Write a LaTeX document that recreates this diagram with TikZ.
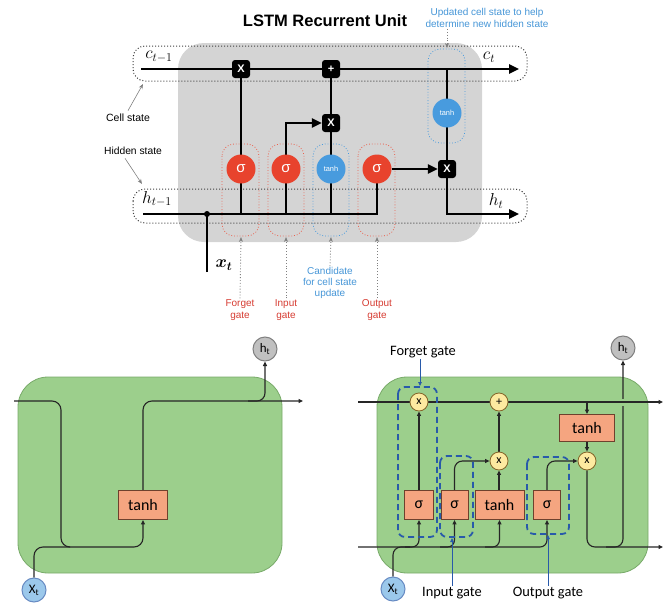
\documentclass[tikz,border=0pt]{standalone}
\usepackage{fontspec}
\usepackage{bm}
\setmainfont{Liberation Sans}
\newfontfamily\calfont{Carlito}
\usetikzlibrary{arrows.meta,backgrounds}

\definecolor{panelgray}{RGB}{212,212,212}
\definecolor{gatered}{RGB}{232,67,45}
\definecolor{candblue}{RGB}{72,155,222}
\definecolor{notered}{RGB}{214,60,50}
\definecolor{noteblue}{RGB}{70,150,215}
\definecolor{cellgreen}{RGB}{156,207,140}
\definecolor{cellgreenedge}{RGB}{120,170,105}
\definecolor{layerorange}{RGB}{245,165,128}
\definecolor{layeredge}{RGB}{110,65,45}
\definecolor{opyellow}{RGB}{253,234,160}
\definecolor{opedge}{RGB}{130,100,40}
\definecolor{gatedash}{RGB}{40,90,170}
\definecolor{outgray}{RGB}{192,192,192}
\definecolor{ingblue}{RGB}{155,200,235}

\tikzset{
  heavy/.style={line width=2.4pt, black},
  heavyarrow/.style={heavy, -{Triangle[length=10pt,width=9pt]}},
  opbox/.style={fill=black, rounded corners=3pt, minimum size=18pt, inner sep=0pt,
    text=white, font=\bfseries\fontsize{11}{11}\selectfont},
  sigcirc/.style={circle, fill=gatered, minimum size=29pt, inner sep=0pt, text=white,
    font=\fontsize{15}{15}\selectfont},
  tanhcirc/.style={circle, fill=candblue, minimum size=29pt, inner sep=0pt, text=white,
    font=\fontsize{7.4}{7.4}\selectfont},
  statebox/.style={draw=black!75, dotted, line width=1pt, rounded corners=12pt},
  redzone/.style={draw=gatered!85, dotted, line width=0.8pt, rounded corners=12pt},
  bluezone/.style={draw=candblue, dotted, line width=0.8pt, rounded corners=12pt},
  note/.style={font=\fontsize{10}{12}\selectfont, align=center, inner sep=1pt},
  statelabel/.style={font=\fontsize{17}{17}\selectfont, inner sep=0pt},
  pointer/.style={gray, line width=0.6pt, -{Stealth[length=5pt,width=4pt]}},
  dotpointer/.style={gray, dotted, line width=0.9pt, -{Stealth[length=5pt,width=4pt]}},
  wire/.style={line width=1.1pt, black!85},
  wirearrow/.style={wire, -{Triangle[length=4.5pt,width=4pt]}},
  layerbox/.style={draw=layeredge, line width=0.8pt, fill=layerorange, inner sep=0pt,
    font=\calfont\fontsize{16}{16}\selectfont},
  pointop/.style={circle, draw=opedge, line width=0.8pt, fill=opyellow, minimum size=18pt,
    inner sep=0pt, font=\calfont\fontsize{12}{12}\selectfont},
  gatezone/.style={draw=gatedash, line width=1.8pt, dash pattern=on 6pt off 4pt,
    rounded corners=7pt},
  gatelabel/.style={font=\calfont\fontsize{14.4}{14.4}\selectfont, inner sep=1pt},
  gatepointer/.style={gatedash, line width=0.8pt, -{Triangle[length=4pt,width=3.5pt]}},
  iocirc/.style={circle, minimum size=24pt, inner sep=0pt, line width=1pt,
    font=\calfont\fontsize{13}{13}\selectfont},
}

\begin{document}
\begin{tikzpicture}[x=1pt,y=-1pt]
\useasboundingbox (0,0) rectangle (670,608);

% ================= Upper figure: LSTM recurrent unit =================
\node[font=\bfseries\fontsize{16.5}{16.5}\selectfont] (title) at (325,21) {LSTM Recurrent Unit};
\node[note, text=noteblue] (updnote) at (487,18) {Updated cell state to help\\determine new hidden state};

% operators
\node[opbox] (fx) at (241,69) {X};
\node[opbox] (addc) at (331,69) {+};
\node[opbox] (ix) at (331,123) {X};
\node[opbox] (ox) at (447,169) {X};
% activation circles
\node[tanhcirc] (tc) at (447,113) {tanh};
\node[sigcirc] (fs) at (241,169) {σ};
\node[sigcirc] (is) at (286,169) {σ};
\node[tanhcirc] (ts) at (331,169) {tanh};
\node[sigcirc] (os) at (377,169) {σ};

% state labels
\node[statelabel] (clast) at (159,57) {$c_{t-1}$};
\node[statelabel] (cnow) at (489,57) {$c_t$};
\node[statelabel] (hlast) at (157,199) {$h_{t-1}$};
\node[statelabel] (hnow) at (496,201) {$h_t$};
\node[statelabel] (xlab) at (224,265) {$\bm{x_t}$};
\node[font=\fontsize{10.5}{10.5}\selectfont] (celltxt) at (128,118) {Cell state};
\node[font=\fontsize{10.3}{10.3}\selectfont] (hidtxt) at (133,151) {Hidden state};

% gate notes
\node[note, text=notered] (fgtxt) at (240,310) {Forget\\gate};
\node[note, text=notered] (igtxt) at (286,310) {Input\\gate};
\node[note, text=noteblue, font=\fontsize{10}{11}\selectfont] (cdtxt) at (330,283) {Candidate\\for cell state\\update};
\node[note, text=notered] (ogtxt) at (377,310) {Output\\gate};

% connector end points
\coordinate (cin) at (141,69);
\coordinate (cout) at (519,69);
\coordinate (hin) at (143,214);
\coordinate (hout) at (519,214);
\coordinate (jn) at (207,214);
\coordinate (xin) at (207,272);
\coordinate (ctap) at (447,69);
\coordinate (fh) at (241,214);
\coordinate (ih) at (286,214);
\coordinate (th) at (331,214);
\coordinate (updtip) at (447,48);
\coordinate (ctip) at (143,84);
\coordinate (htip) at (142,184);
\coordinate (fztip) at (241,237);
\coordinate (iztip) at (286,237);
\coordinate (cztip) at (331,237);
\coordinate (oztip) at (377,237);

\begin{scope}[on background layer]
  \fill[panelgray, rounded corners=26pt] (178,43) rectangle (482,242);
  \draw[statebox] (133,46) rectangle (527,81);
  \draw[statebox] (133,189) rectangle (527,223);
  \draw[redzone] (222,144) rectangle (259,236);
  \draw[redzone] (268,144) rectangle (304,236);
  \draw[bluezone] (313,144) rectangle (349,236);
  \draw[redzone] (358,144) rectangle (395,236);
  \draw[bluezone] (428,49) rectangle (465,143);

  \draw[heavyarrow] (cin) -- (cout);
  \draw[heavy] (hin) -| (os.center);
  \draw[heavy] (fh) -- (fx.center);
  \draw[heavy] (ih) -- (is.center);
  \draw[heavyarrow] (is.center) |- (ix.west);
  \draw[heavy] (th) -- (addc.center);
  \draw[heavyarrow] (os.east) -- (ox.west);
  \draw[heavy] (ctap) -- (ox.center);
  \draw[heavyarrow] (ox.center) |- (hout);
  \draw[heavy] (xin) -- (jn);
  \fill (jn) circle (3pt);
\end{scope}

\draw[dotpointer] (updnote.south -| updtip) -- (updtip);
\draw[pointer] (celltxt.north) -- (ctip);
\draw[pointer] ([xshift=-8pt]hidtxt.south) -- (htip);
\draw[dotpointer] (fgtxt.north) -- (fztip);
\draw[dotpointer] (igtxt.north) -- (iztip);
\draw[dotpointer] (cdtxt.north) -- (cztip);
\draw[dotpointer] (ogtxt.north) -- (oztip);

% ================= Lower left: simple recurrent cell =================
\node[layerbox, minimum width=49pt, minimum height=29pt] (ltanh) at (143,505) {tanh};
\node[iocirc, fill=outgray, draw=gray] (lh) at (265,349) {h\textsubscript{t}};
\node[iocirc, fill=ingblue, draw=gatedash!70] (lx) at (34,590) {X\textsubscript{t}};
\coordinate (lin) at (14,401);
\coordinate (lout) at (303,401);
\coordinate (lbend) at (248,401);

\begin{scope}[on background layer]
  \filldraw[fill=cellgreen, draw=cellgreenedge, line width=0.8pt, rounded corners=30pt]
    (18,377) rectangle (282,573);
  \draw[wirearrow, rounded corners=9pt] (lin) -- (61,401) -- (61,547) -- (143,547) -- (ltanh.south);
  \draw[wire, rounded corners=9pt] (lx.north) -- (34,547) -- (70,547);
  \draw[wirearrow, rounded corners=9pt] (ltanh.north) -- (143,401) -- (lout);
  \draw[wirearrow, rounded corners=8pt] (lbend) -- (265,401) -- (lh.south);
\end{scope}

% ================= Lower right: LSTM cell =================
\node[pointop] (rfx) at (419,402) {x};
\node[pointop] (radd) at (499,402) {+};
\node[pointop] (rix) at (499,461) {x};
\node[pointop] (rox) at (587,461) {x};
\node[layerbox, minimum width=55pt, minimum height=27pt] (rtc) at (587,428) {tanh};
\node[layerbox, minimum width=29pt, minimum height=29pt] (rfs) at (419,505) {σ};
\node[layerbox, minimum width=27pt, minimum height=29pt] (ris) at (454.5,505) {σ};
\node[layerbox, minimum width=49pt, minimum height=29pt] (rtanh) at (499.5,505) {tanh};
\node[layerbox, minimum width=27pt, minimum height=29pt] (ros) at (547,505) {σ};
\node[iocirc, fill=outgray, draw=gray] (rh) at (623,348) {h\textsubscript{t}};
\node[iocirc, fill=ingblue, draw=gatedash!70] (rx) at (393,589) {X\textsubscript{t}};

\node[gatelabel] (rfgl) at (423,352) {Forget gate};
\node[gatelabel] (rigl) at (452,593) {Input gate};
\node[gatelabel] (rogl) at (548,593) {Output gate};

\coordinate (rin) at (358,402);
\coordinate (rout) at (663,402);
\coordinate (rbin) at (358,547);
\coordinate (rbout) at (663,547);
\coordinate (rtap) at (587,402);
\coordinate (fbr) at (405,547);
\coordinate (ibr) at (440,547);
\coordinate (tbr) at (485,547);
\coordinate (hbr) at (606,547);
\coordinate (fgtip) at (420,386);
\coordinate (igtip) at (452,538);
\coordinate (ogtip) at (548,535);

\begin{scope}[on background layer]
  \filldraw[fill=cellgreen, draw=cellgreenedge, line width=0.8pt, rounded corners=30pt]
    (377,377) rectangle (648,573);
  % hidden-state output rises past the cell line
  \draw[wirearrow, rounded corners=8pt] (hbr) -- (623,547) -- (rh.south);
  \draw[cellgreen, line width=2pt] (623,398.5) -- (623,405.5);
  \draw[wirearrow] (rin) -- (rout);
  \draw[wirearrow, rounded corners=7pt] (rbin) -- (547,547) -- (ros.south);
  \draw[wire, rounded corners=8pt] (rx.north) -- (393,547) -- (410,547);
  \draw[wirearrow, rounded corners=7pt] (fbr) -- (419,547) -- (rfs.south);
  \draw[wirearrow, rounded corners=7pt] (ibr) -- (454.5,547) -- (ris.south);
  \draw[wirearrow, rounded corners=7pt] (tbr) -- (499.5,547) -- (rtanh.south);
  \draw[wirearrow] (rfs.north) -- (rfx.south);
  \draw[wirearrow, rounded corners=8pt] (ris.north) -- (454.5,461) -- (rix.west);
  \draw[wirearrow] (rtanh.north -| rix) -- (rix.south);
  \draw[wirearrow] (rix.north) -- (radd.south);
  \draw[wirearrow] (rtap) -- (rtc.north);
  \draw[wirearrow] (rtc.south) -- (rox.north);
  \draw[wirearrow, rounded corners=8pt] (ros.north) -- (547,461) -- (rox.west);
  \draw[wirearrow, rounded corners=8pt] (rox.south) -- (587,547) -- (rbout);
\end{scope}

\draw[gatezone] (398,387) rectangle (437,537);
\draw[gatezone] (440,456) rectangle (473,537);
\draw[gatezone] (527,457) rectangle (569,534);

\draw[gatepointer] (rfgl.south -| fgtip) -- (fgtip);
\draw[gatepointer] (rigl.north) -- (igtip);
\draw[gatepointer] (rogl.north) -- (ogtip);

\end{tikzpicture}
\end{document}
